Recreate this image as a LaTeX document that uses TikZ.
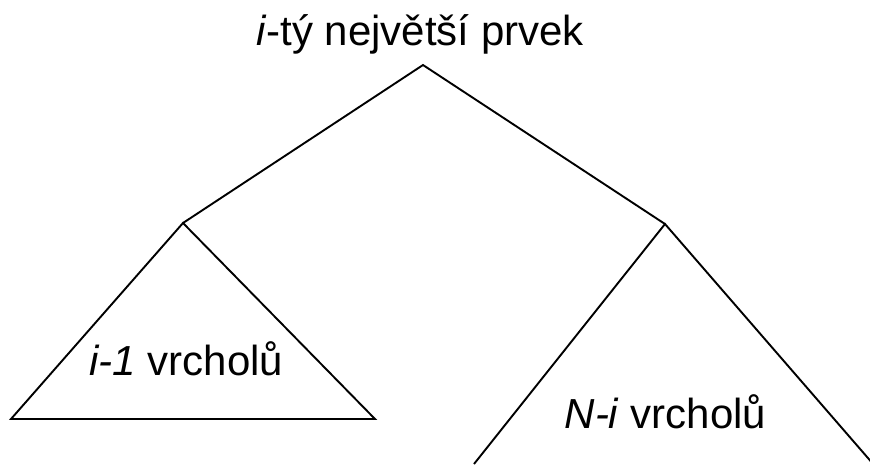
\documentclass[tikz,border=0pt]{standalone}
\usepackage{fontspec}
\setmainfont{Liberation Sans}
\begin{document}
\begin{tikzpicture}[x=1pt,y=-1pt,
  edge/.style={line width=1.9pt,line join=miter},
  lbl/.style={anchor=base,inner sep=0pt,font=\fontsize{42}{50}\selectfont}]
\useasboundingbox (0,0) rectangle (870,464);
\clip (0,0) rectangle (870,464);
% root label and branch points
\node[lbl] (root) at (420,45) {\textit{i}-tý největší prvek};
\coordinate (top) at (423,65);
\coordinate (l) at (183,223);
\coordinate (r) at (665,224);
% left subtree corners
\coordinate (lbl1) at (11,419);
\coordinate (lbr) at (375,419);
% right subtree runs off the bottom edge
\coordinate (rbl) at (474,464);
\coordinate (rbr) at (874,465);
\draw[edge] (l) -- (top) -- (r);
\draw[edge] (l) -- (lbl1) -- (lbr) -- cycle;
\draw[edge] (rbl) -- (r) -- (rbr);
% subtree labels
\node[lbl] (lt) at (186.5,375) {\textit{i-1} vrcholů};
\node[lbl] (rt) at (665.5,428) {\textit{N-i} vrcholů};
\end{tikzpicture}
\end{document}
